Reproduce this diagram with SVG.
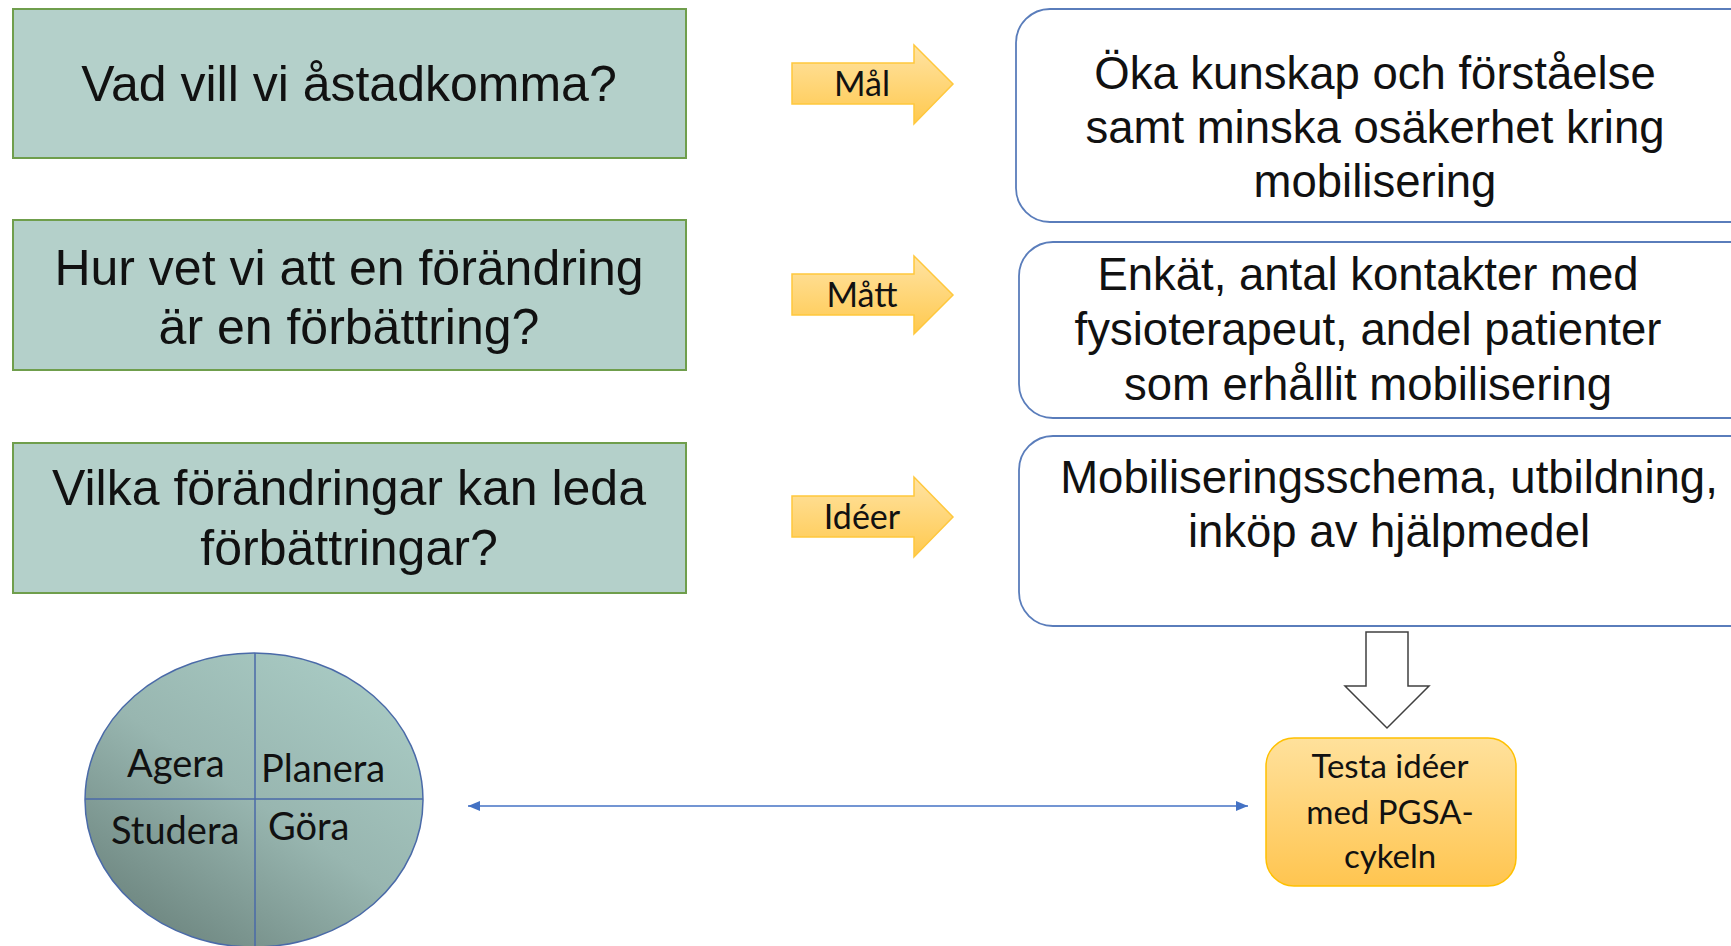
<svg xmlns="http://www.w3.org/2000/svg" width="1731" height="946" viewBox="0 0 1731 946">
<defs>
<style>
.q{fill:#b4d0ca;stroke:#6f9e4c;stroke-width:2}
.qt{font-family:"Liberation Sans",Arial,sans-serif;font-size:50px;fill:#111;text-anchor:middle}
.a{fill:url(#ag);stroke:#ffc83d;stroke-width:1.5}
.at{font-family:Lato,"Noto Sans",sans-serif;font-size:34px;fill:#111;text-anchor:middle}
.r{fill:#fff;stroke:#5a7dbb;stroke-width:1.8}
.rt{font-family:"Liberation Sans",Arial,sans-serif;font-size:45.5px;fill:#111;text-anchor:middle}
.ct{font-family:Lato,"Noto Sans",sans-serif;font-size:38px;fill:#111}
.tt{font-family:Lato,"Noto Sans",sans-serif;font-size:33px;fill:#111;text-anchor:middle}
</style>
<linearGradient id="ag" x1="0" y1="0" x2="0" y2="1">
<stop offset="0" stop-color="#ffe3a3"/>
<stop offset="1" stop-color="#ffc94e"/>
</linearGradient>
<linearGradient id="tg" x1="0" y1="0" x2="0" y2="1">
<stop offset="0" stop-color="#ffe19c"/>
<stop offset="1" stop-color="#ffc550"/>
</linearGradient>
<linearGradient id="eg" x1="0.85" y1="0.05" x2="0.15" y2="0.95">
<stop offset="0" stop-color="#a9cbc4"/>
<stop offset="0.5" stop-color="#98b6b0"/>
<stop offset="1" stop-color="#6c847e"/>
</linearGradient>
<marker id="ah" viewBox="0 0 12 10" refX="12" refY="5" markerWidth="12" markerHeight="10" markerUnits="userSpaceOnUse" orient="auto-start-reverse">
<path d="M0,0 L12,5 L0,10 Z" fill="#4472c4"/>
</marker>
</defs>
<rect width="1731" height="946" fill="#fff"/>

<g id="q1"><rect class="q" x="13" y="9" width="673" height="149"/>
<text class="qt" x="349" y="101">Vad vill vi åstadkomma?</text></g>
<g id="q2"><rect class="q" x="13" y="220" width="673" height="150"/>
<text class="qt" x="349" y="285">Hur vet vi att en förändring</text>
<text class="qt" x="349" y="344">är en förbättring?</text></g>
<g id="q3"><rect class="q" x="13" y="443" width="673" height="150"/>
<text class="qt" x="349" y="505">Vilka förändringar kan leda</text>
<text class="qt" x="349" y="565">förbättringar?</text></g>

<g id="arrow-mal"><path class="a" d="M792,63 H914 V45 L953,84 L914,124 V104 H792 Z"/>
<text class="at" x="862" y="96">Mål</text></g>
<g id="arrow-matt"><path class="a" d="M792,274 H914 V256 L953,295 L914,334 V315 H792 Z"/>
<text class="at" x="862" y="307">Mått</text></g>
<g id="arrow-ideer"><path class="a" d="M792,496 H914 V477 L953,517 L914,557 V537 H792 Z"/>
<text class="at" x="862" y="529">Idéer</text></g>

<g id="goal"><rect class="r" x="1016" y="9" width="760" height="213" rx="34"/>
<text class="rt" x="1375" y="89">Öka kunskap och förståelse</text>
<text class="rt" x="1375" y="143">samt minska osäkerhet kring</text>
<text class="rt" x="1375" y="197">mobilisering</text></g>
<g id="measures"><rect class="r" x="1019" y="242" width="760" height="176" rx="34"/>
<text class="rt" x="1368" y="290">Enkät, antal kontakter med</text>
<text class="rt" x="1368" y="345">fysioterapeut, andel patienter</text>
<text class="rt" x="1368" y="400">som erhållit mobilisering</text></g>
<g id="ideas"><rect class="r" x="1019" y="436" width="760" height="190" rx="34"/>
<text class="rt" x="1389" y="493">Mobiliseringsschema, utbildning,</text>
<text class="rt" x="1389" y="547">inköp av hjälpmedel</text></g>

<g id="test"><rect x="1266" y="738" width="250" height="148" rx="28" fill="url(#tg)" stroke="#ffc000" stroke-width="1.5"/>
<text class="tt" x="1390" y="778">Testa idéer</text>
<text class="tt" x="1390" y="824">med PGSA-</text>
<text class="tt" x="1390" y="868">cykeln</text></g>

<g id="pdsa">
<ellipse cx="254" cy="800" rx="169" ry="147" fill="url(#eg)" stroke="#4a6aa8" stroke-width="1.5"/>
<line x1="255" y1="653" x2="255" y2="946" stroke="#4a6aa8" stroke-width="1.5"/>
<line x1="85" y1="799" x2="423" y2="799" stroke="#4a6aa8" stroke-width="1.5"/>
<text class="ct" x="127" y="777">Agera</text>
<text class="ct" x="261" y="782">Planera</text>
<text class="ct" x="111" y="844">Studera</text>
<text class="ct" x="268" y="840">Göra</text>
</g>

<g id="connectors">
<path d="M1366,632 H1408 V686 H1429 L1387,728 L1345,686 H1366 Z" fill="#fff" stroke="#404040" stroke-width="1.5"/>
<line x1="468" y1="806" x2="1248" y2="806" stroke="#4472c4" stroke-width="1.5" marker-start="url(#ah)" marker-end="url(#ah)"/>
</g>
</svg>
